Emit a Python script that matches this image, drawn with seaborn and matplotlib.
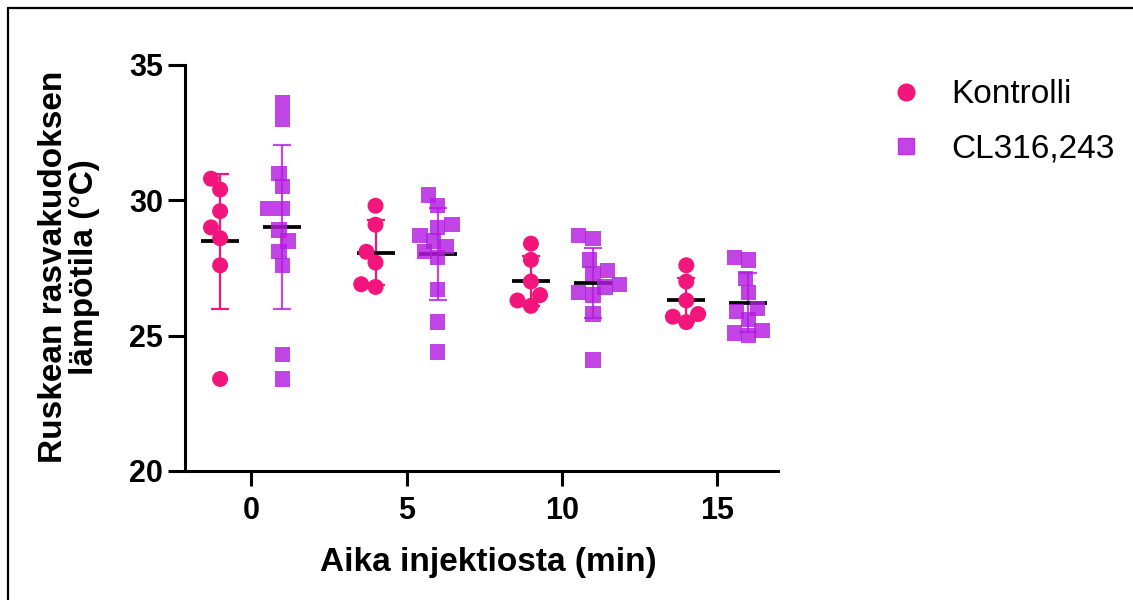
import numpy as np
import pandas as pd
import matplotlib
matplotlib.use("Agg")
import matplotlib.pyplot as plt
from matplotlib.lines import Line2D
from matplotlib.markers import MarkerStyle
import seaborn as sns

# Brown adipose tissue temperature after injection (°C)
times = [0, 5, 10, 15]
groups = ["Kontrolli", "CL316,243"]

kontrolli_0 = [30.8, 30.4, 29.6, 29.0, 28.6, 27.6, 23.4]
kontrolli_5 = [29.8, 29.1, 28.1, 27.7, 26.8, 26.9]
kontrolli_10 = [28.4, 27.8, 27.0, 26.5, 26.3, 26.1]
kontrolli_15 = [27.6, 27.0, 26.3, 25.8, 25.7, 25.5]

cl_0 = [33.6, 33.0, 31.0, 30.5, 29.7, 29.7, 28.9, 28.5, 28.1, 27.6, 24.3, 23.4]
cl_5 = [30.2, 29.8, 29.1, 29.0, 28.7, 28.5, 28.3, 28.1, 27.9, 26.7, 25.5, 24.4]
cl_10 = [28.7, 28.6, 27.8, 27.4, 27.3, 26.9, 26.8, 26.6, 26.5, 25.8, 24.1]
cl_15 = [27.9, 27.8, 27.1, 26.6, 26.0, 25.9, 25.6, 25.2, 25.1, 25.0]

y_ticks = [20, 25, 30, 35]
x_ticks = [0, 5, 10, 15]

pink = "#F2157C"
purple = "#B41CE0"
palette = {"Kontrolli": pink, "CL316,243": purple}

rows = []
for t, vals in zip(times, [kontrolli_0, kontrolli_5, kontrolli_10, kontrolli_15]):
    rows += [(t, "Kontrolli", v) for v in vals]
for t, vals in zip(times, [cl_0, cl_5, cl_10, cl_15]):
    rows += [(t, "CL316,243", v) for v in vals]
df = pd.DataFrame(rows, columns=["aika", "ryhma", "lampotila"])

sns.set_style("ticks")
plt.rcParams["font.family"] = ["Liberation Sans", "DejaVu Sans"]
for key in ["text.color", "axes.edgecolor", "axes.labelcolor", "xtick.color", "ytick.color"]:
    plt.rcParams[key] = "black"

fig = plt.figure(figsize=(11.33, 6.0), dpi=100)
ax = fig.add_axes([185 / 1133, 1 - 471 / 600, (778 - 185) / 1133, (471 - 65) / 600])

ax.set_xlim(-2.13, 16.95)
ax.set_ylim(20, 35)

# Swarm laid out with compact spacing, so neighbouring markers may overlap a little
sns.swarmplot(data=df, x="aika", y="lampotila", hue="ryhma", hue_order=groups,
              palette=palette, native_scale=True, dodge=True, size=10.0,
              linewidth=0, legend=False, ax=ax, warn_thresh=1.0)
ax.set_xlim(-2.13, 16.95)
ax.set_ylim(20, 35)
fig.canvas.draw()

square = MarkerStyle("s")
square_path = square.get_path().transformed(square.get_transform())
cl_rgba = np.array(matplotlib.colors.to_rgba(purple))
for coll in ax.collections:
    # keep the computed swarm positions and enlarge the markers
    if "draw" in coll.__dict__:
        del coll.draw
    coll.set_sizes([11.5 ** 2])
    coll.set_zorder(3)
    fc = coll.get_facecolors()
    if len(fc) and np.allclose(fc[0][:3], cl_rgba[:3], atol=0.02):
        coll.set_paths([square_path])
        coll.set_sizes([11.0 ** 2])
        coll.set_alpha(0.82)

# Mean ± SD for each group, offset to the dodged swarm positions
offsets = {"Kontrolli": -1.0, "CL316,243": 1.0}
stats = df.groupby(["aika", "ryhma"])["lampotila"].agg(["mean", "std"]).reset_index()
for g in groups:
    s = stats[stats["ryhma"] == g]
    xs = s["aika"].to_numpy() + offsets[g]
    alpha = 1.0 if g == "Kontrolli" else 0.8
    ax.errorbar(xs, s["mean"], yerr=s["std"], fmt="none", ecolor=palette[g],
                elinewidth=1.6, capsize=6.8, capthick=1.6, alpha=alpha, zorder=1)
    ax.plot(xs, s["mean"], linestyle="none", marker="_", markersize=28,
            markeredgewidth=2.7, color="black", zorder=2)

ax.set_xlim(-2.13, 16.95)
ax.set_ylim(20, 35)
ax.set_yticks(y_ticks)
ax.set_xticks(x_ticks)
ax.set_xlabel("")
ax.set_ylabel("")
for side in ["top", "right"]:
    ax.spines[side].set_visible(False)
for side in ["left", "bottom"]:
    ax.spines[side].set_linewidth(2.2)
ax.tick_params(axis="both", width=2.2, labelsize=22, colors="black")
ax.tick_params(axis="y", length=12, pad=4)
ax.tick_params(axis="x", length=11, pad=7)
for lab in ax.get_xticklabels() + ax.get_yticklabels():
    lab.set_fontweight("bold")

fig.text(488 / 1133, 1 - 562 / 600, "Aika injektiosta (min)", ha="center", va="center",
         fontsize=24, fontweight="bold")
fig.text(69 / 1133, 1 - 267 / 600, "Ruskean rasvakudoksen\nlämpötila (°C)", rotation=90,
         ha="center", va="center", multialignment="center", fontsize=24,
         fontweight="bold", linespacing=1.0)

handles = [
    Line2D([], [], linestyle="none", marker="o", markersize=12, color=pink),
    Line2D([], [], linestyle="none", marker="s", markersize=11, color=purple, alpha=0.82),
]
fig.legend(handles, groups, loc="upper left", bbox_to_anchor=(876 / 1133, 1 - 66 / 600),
           frameon=False, fontsize=24, handlelength=1.0, handletextpad=0.85,
           labelspacing=0.71, borderaxespad=0)

# Thin frame along the top and left edges of the figure
fig.add_artist(Line2D([8 / 1133, 1.0], [1 - 8 / 600, 1 - 8 / 600], color="black", linewidth=1.6,
                      transform=fig.transFigure))
fig.add_artist(Line2D([8 / 1133, 8 / 1133], [0, 1 - 8 / 600], color="black", linewidth=1.6,
                      transform=fig.transFigure))

fig.savefig("out.png", dpi=100)
